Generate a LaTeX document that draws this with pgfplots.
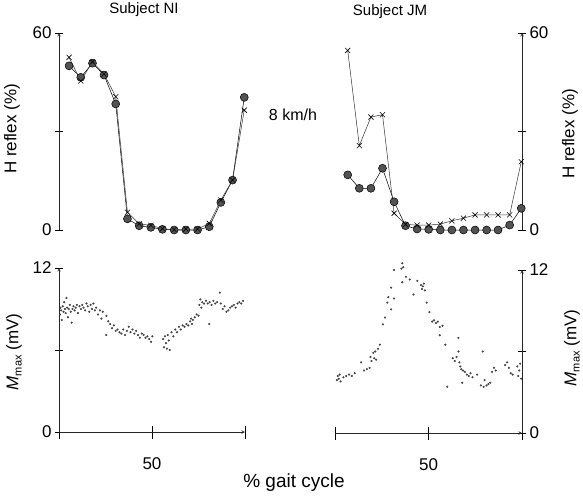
\documentclass[border=0pt]{standalone}
\usepackage{fontspec}
\setmainfont{Liberation Sans}
\usepackage{pgfplots}
\pgfplotsset{compat=1.18}
\pgfplotsset{
  myax/.style={scale only axis, xmin=0, xmax=100, clip=false,
    /pgf/number format/assume math mode=true,
    tick align=outside, major tick length=8pt,
    tick style={black, line width=0.5pt},
    axis line style={-, black!85, line width=0.6pt},
    ticklabel style={font=\fontsize{17}{19}\selectfont}},
  circ/.style={black, line width=0.5pt, mark=*, mark size=4pt, mark options={fill=black!68, draw=black, line width=0.5pt}},
  crs/.style={black!80, line width=0.5pt, mark=x, mark size=3.6pt, mark options={black, line width=0.6pt}},
  dots/.style={only marks, mark=*, mark size=0.85pt, black!75},
}
\newcommand{\Mmax}{{\itshape M\/}\raisebox{-0.35ex}{\fontsize{11}{11}\selectfont max}}
\begin{document}
\begin{tikzpicture}
\useasboundingbox (0pt,0pt) rectangle (583pt,496pt);

% ---------- top left: Subject NI ----------
\begin{axis}[myax, at={(59pt,266pt)}, anchor=south west, width=186pt, height=197pt,
  ymin=0, ymax=60, hide x axis, axis y line=left,
  ytick={0,30,60}, yticklabels={0,,60}]
\addplot[circ] coordinates {(5.4,50.0) (11.7,46.5) (18.0,50.8) (24.2,47.2) (30.5,38.4) (36.8,3.4) (43.1,1.3) (49.4,0.8) (55.6,0.2) (61.9,0) (68.2,0) (74.5,0) (80.8,1.0) (87.0,8.4) (93.3,15.2) (99.6,40.4)};
\addplot[crs] coordinates {(5.4,52.6) (11.7,45.4) (18.0,51.2) (24.2,47.5) (30.5,40.6) (36.8,5.4) (43.1,1.9) (49.4,1.4) (55.6,0.4) (61.9,0.1) (68.2,0.3) (74.5,0.3) (80.8,2.0) (87.0,9.1) (93.3,15.2) (99.6,36.5)};
\end{axis}

% ---------- top right: Subject JM ----------
\begin{axis}[myax, at={(335pt,266pt)}, anchor=south west, width=187pt, height=197pt,
  ymin=0, ymax=60, hide x axis, axis y line=right,
  ytick={0,30,60}, yticklabels={0,,60}]
\addplot[circ] coordinates {(6.8,16.8) (13.0,12.7) (19.2,12.7) (25.4,18.8) (31.6,8.6) (37.7,1.3) (43.9,0.3) (50.1,0.2) (56.3,0) (62.5,0) (68.7,0) (74.9,0) (81.1,0) (87.2,0) (93.4,1.5) (99.6,6.6)};
\addplot[crs] coordinates {(6.8,54.7) (13.0,25.7) (19.2,34.4) (25.4,35.1) (31.6,5.1) (37.7,1.7) (43.9,1.5) (50.1,1.5) (56.3,1.8) (62.5,2.8) (68.7,3.6) (74.9,4.6) (81.1,4.6) (87.2,4.6) (93.4,4.6) (99.6,20.8)};
\end{axis}

% ---------- bottom left ----------
\begin{axis}[myax, at={(59pt,64pt)}, anchor=south west, width=186pt, height=164pt,
  ymin=0, ymax=12, axis x line=bottom, axis y line=left,
  xtick={0,50,100}, xticklabels={,50,},
  xtick style={/pgfplots/major tick length=13pt},
  xticklabel style={yshift=-18pt},
  ytick={0,6,12}, yticklabels={0,,12}]
\addplot[dots] coordinates {(0.5,8.6) (0.8,9.1) (1.2,8.9) (1.5,8.2) (2.0,9.2) (2.4,8.8) (2.8,9.5) (3.2,9.0) (3.6,8.7) (4.0,9.8) (4.4,9.1) (4.8,8.4) (5.3,9.0) (5.8,9.3) (6.3,8.8) (6.8,8.0) (7.3,9.0) (7.8,9.2) (8.4,8.9) (9.0,9.1) (9.6,9.3) (10.2,8.7) (11.0,9.2) (11.8,9.0) (12.5,9.3) (13.2,9.1) (14.0,8.9) (14.8,9.4) (15.5,9.2) (16.3,8.8) (17.0,9.3) (17.8,9.0) (18.5,9.4) (19.3,8.9) (20.0,9.1) (21.0,8.6) (22.0,8.9) (22.8,8.3) (23.5,8.8) (25.4,7.1) (25.5,8.5) (26.5,8.1) (27.5,7.9) (28.5,7.6) (29.5,7.8) (30.5,7.4) (31.5,7.5) (32.5,7.3) (33.5,7.2) (34.5,7.5) (35.5,7.1) (36.5,7.4) (37.5,7.7) (38.5,7.3) (39.5,7.5) (40.5,7.2) (41.5,7.4) (42.5,7.1) (43.5,6.9) (44.5,7.2) (45.5,7.1) (46.5,6.9) (47.5,7.0) (48.5,6.8) (49.5,6.6) (50.2,7.0)
 (56.0,6.8) (56.5,6.2) (57.0,7.0) (57.5,6.5) (58.0,6.1) (58.5,7.1) (59.0,6.7) (59.5,6.0) (60.5,7.3) (61.5,7.0) (62.5,7.5) (63.5,7.3) (64.5,7.7) (65.5,7.5) (66.5,7.8) (67.5,7.7) (68.5,7.9) (69.5,7.8) (70.5,8.1) (71.0,8.3) (71.5,7.9) (72.0,8.2) (73.0,8.4) (74.0,8.6) (75.0,8.5) (75.5,9.3) (76.0,9.7) (76.5,9.1) (77.0,9.5) (78.0,9.4) (79.0,9.6) (80.0,9.4) (80.8,7.9) (81.0,9.5) (82.0,9.3) (83.0,9.6) (84.0,9.4) (85.0,9.5) (86.5,10.2) (87.0,9.4) (88.0,9.0) (89.0,9.2) (90.0,8.8) (91.0,8.9) (92.0,9.1) (93.0,9.2) (94.0,9.3) (95.0,9.1) (96.0,9.4) (97.0,9.5) (98.0,9.4) (99.0,9.6)};
\end{axis}

% ---------- bottom right ----------
\begin{axis}[myax, at={(335pt,63pt)}, anchor=south west, width=187pt, height=163pt,
  ymin=0, ymax=12, axis x line=bottom, axis y line=right,
  xtick={0,50,100}, xticklabels={,50,},
  xtick style={/pgfplots/major tick length=13pt},
  xticklabel style={yshift=-18pt},
  ytick={0,6,12}, yticklabels={0,,12}]
\addplot[dots] coordinates {(1.0,3.9) (1.5,4.2) (2.0,4.0) (2.5,4.3) (3.0,3.8) (4.5,4.1) (6.0,4.2) (7.5,4.3) (9.0,4.2) (10.5,4.4) (14.0,5.2) (15.5,4.6) (17.0,4.7) (18.5,4.8) (19.0,5.6) (19.5,5.3) (20.5,5.9) (21.0,5.5) (21.5,6.0) (22.0,5.4) (23.0,6.2) (24.0,6.5) (25.6,8.0) (26.7,8.5) (28.0,9.6) (28.5,10.0) (30.0,9.1) (31.5,9.9) (30.0,10.7) (31.5,12.0) (35.5,12.1) (36.0,12.5) (36.5,12.2) (36.0,11.1) (38.0,11.5) (40.0,11.3) (42.0,10.2) (44.0,11.2) (46.0,10.9) (46.5,10.6) (47.0,10.8) (47.5,11.0) (48.0,10.5) (49.0,9.6) (50.5,8.9) (52.0,8.2) (53.0,8.3) (54.0,8.1) (55.0,8.2) (56.0,7.8) (56.0,7.2) (57.5,7.9) (59.0,6.5) (60.0,3.4) (63.0,5.5) (64.0,5.3) (65.0,5.6) (66.0,7.0) (66.0,6.0) (66.5,5.2) (67.0,4.9) (67.5,4.7) (68.0,3.7) (68.5,4.6) (69.5,4.5) (70.5,4.3) (71.5,4.2) (72.5,4.4) (73.5,4.1) (76.0,4.3) (78.0,3.5) (79.0,6.0) (79.5,3.4) (80.0,3.9) (81.0,3.5) (82.0,3.6) (83.0,3.7) (84.0,4.5) (85.0,4.8) (86.0,4.6) (91.0,5.0) (92.0,5.2) (93.0,4.8) (94.0,4.4) (95.0,4.3) (97.5,4.9) (98.0,4.2) (98.5,4.6) (99.0,5.1) (99.5,4.0)};
\end{axis}

\begin{scope}[every node/.style={font=\fontsize{17}{19}\selectfont, rotate=90, anchor=center}]
\node at (12pt,367pt) {H reflex (\%)};
\node at (570pt,362pt) {H reflex (\%)};
\node at (14pt,144pt) {\Mmax\ (mV)};
\node at (572pt,148pt) {\Mmax\ (mV)};
\end{scope}
\node[font=\fontsize{15}{17}\selectfont] at (144pt,486pt) {Subject NI};
\node[font=\fontsize{15}{17}\selectfont] at (390pt,484pt) {Subject JM};
\node[font=\fontsize{16}{18}\selectfont] at (293pt,381pt) {8 km/h};
\node[font=\fontsize{19}{21}\selectfont] at (294pt,13pt) {\% gait cycle};
\end{tikzpicture}
\end{document}
